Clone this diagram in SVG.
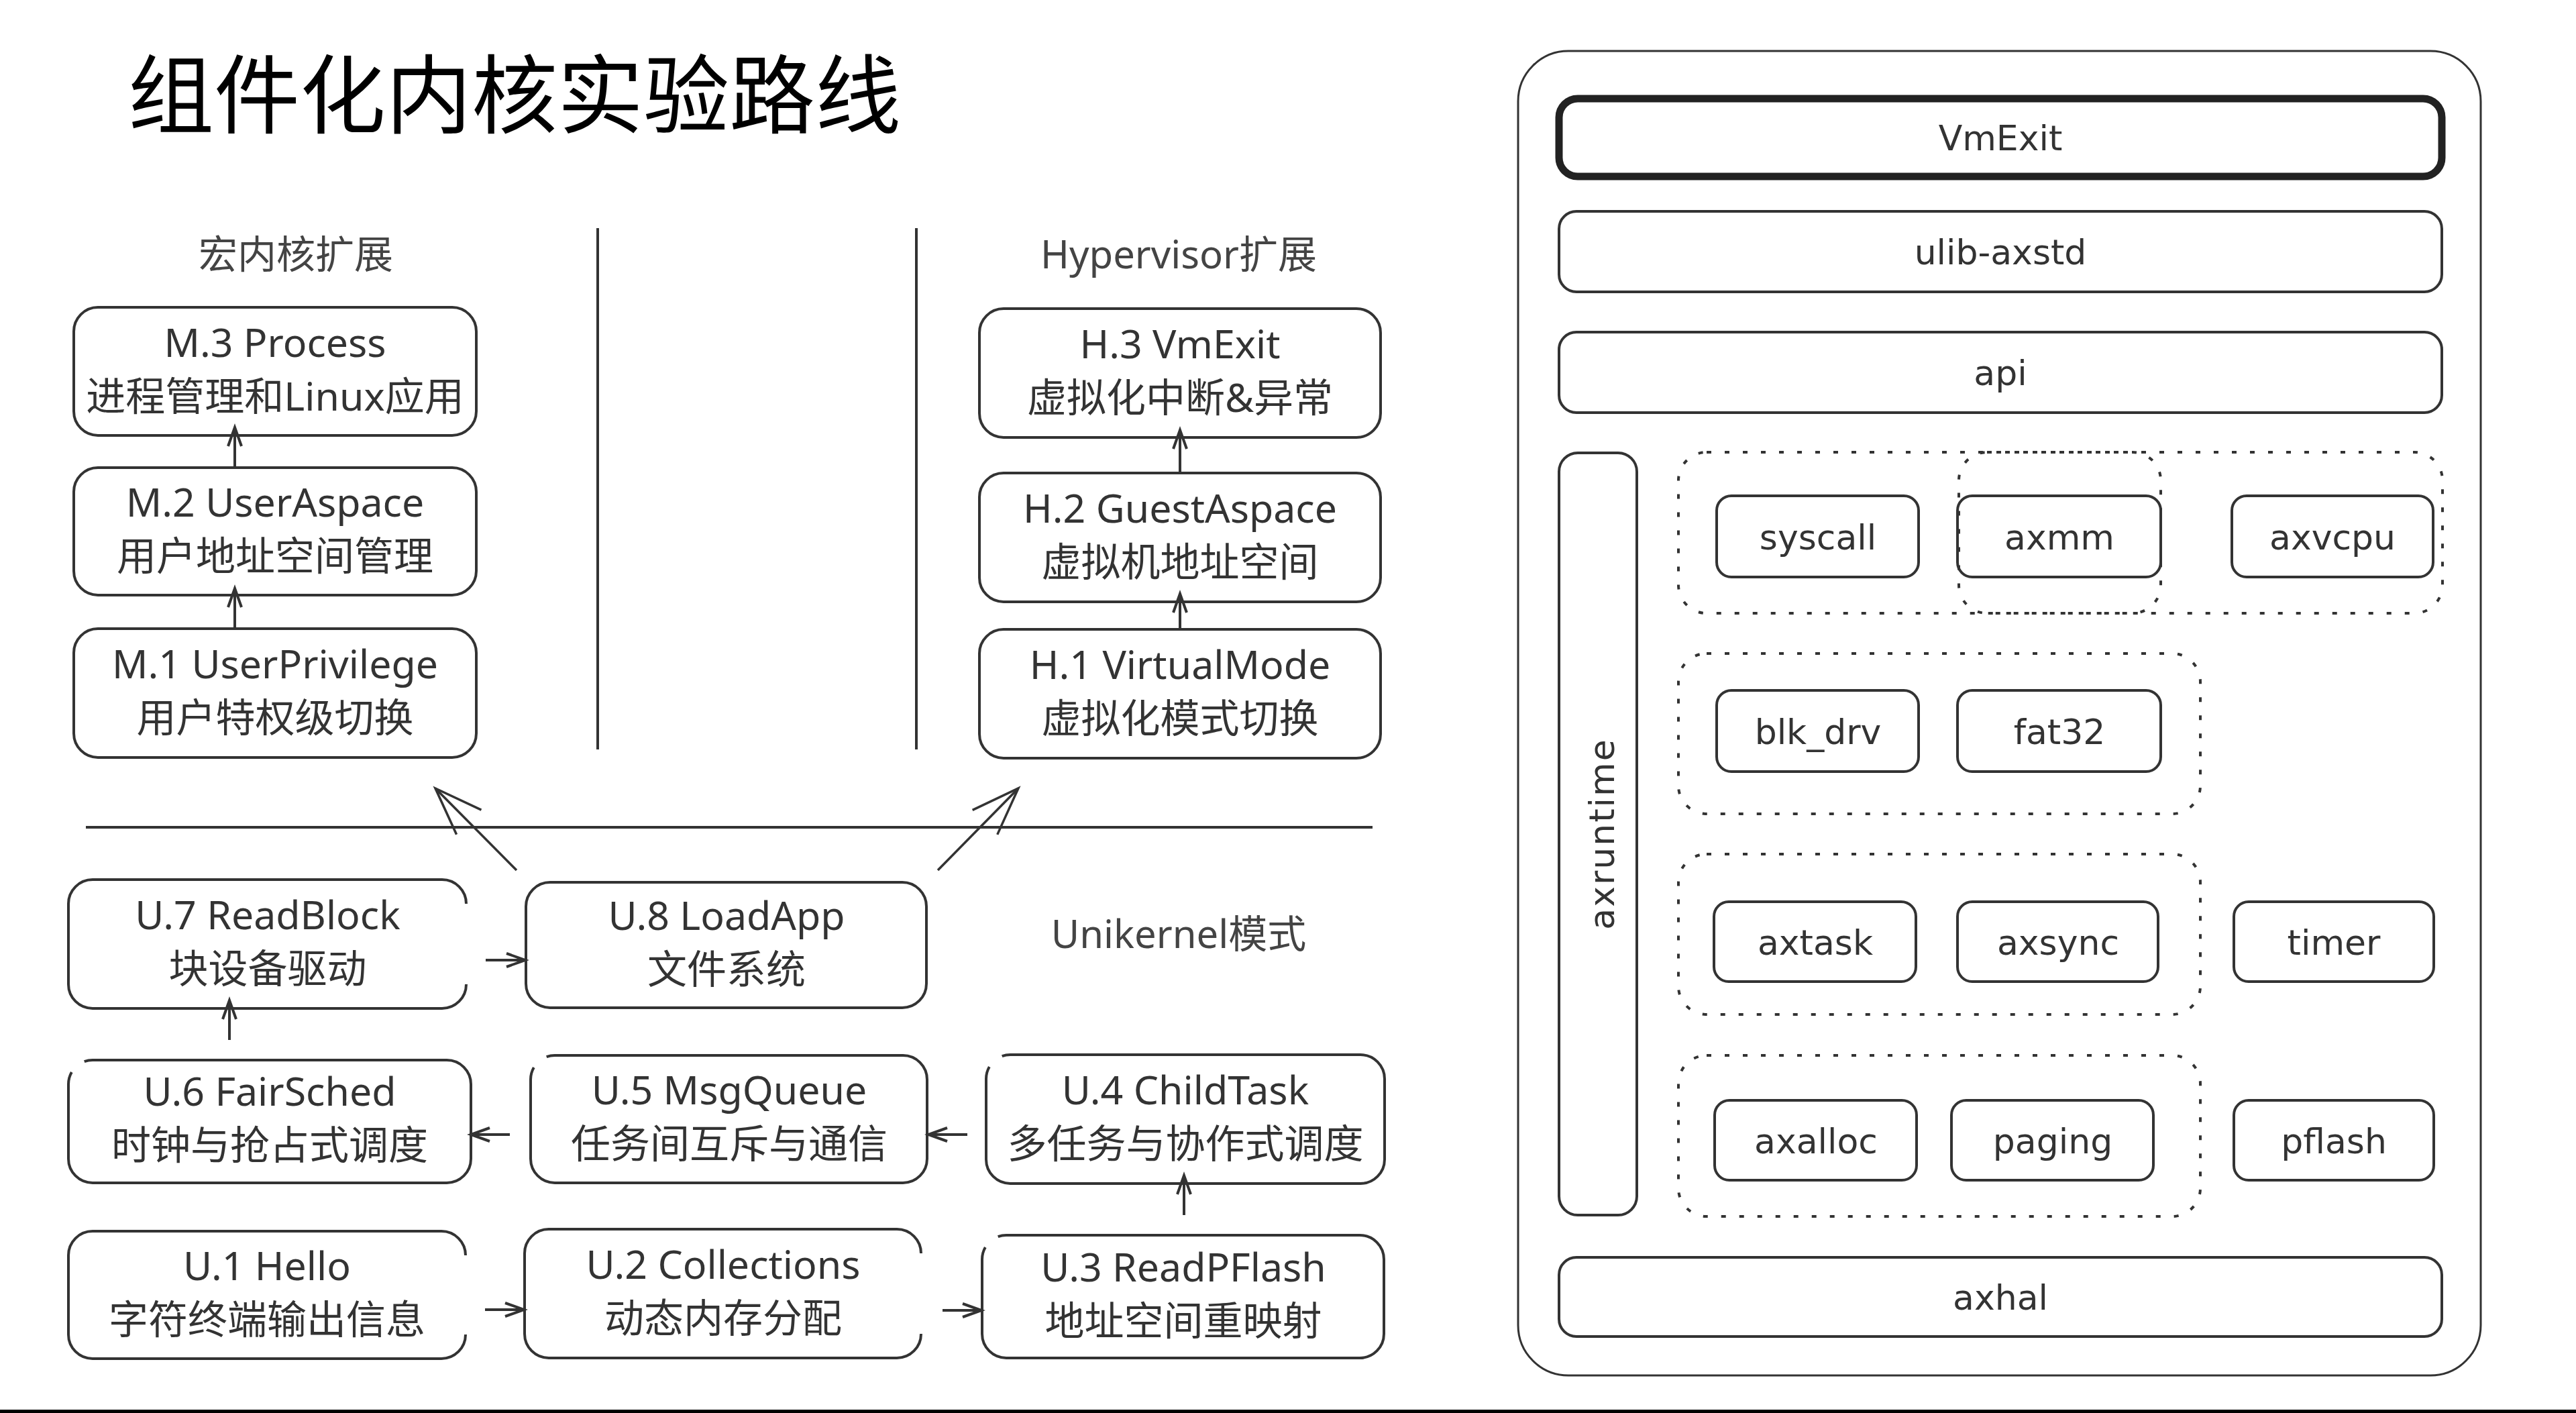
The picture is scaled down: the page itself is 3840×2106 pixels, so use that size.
<svg xmlns="http://www.w3.org/2000/svg" width="3840" height="2106" viewBox="0 0 3840 2106">
<style>
.box{fill:none;stroke:#333;stroke-width:4}
.t{font-family:"Noto Sans","Noto Sans CJK SC",sans-serif;font-size:59px;fill:#333;text-anchor:middle}
.lbl{font-family:"Noto Sans","Noto Sans CJK SC",sans-serif;font-size:58px;fill:#444;text-anchor:middle}
.rt{font-family:"DejaVu Sans",sans-serif;font-size:52px;fill:#333;text-anchor:middle}
.grp{fill:none;stroke:#333;stroke-width:4;stroke-dasharray:7 20}
.conn{stroke:#333;stroke-width:4;fill:none}
.big{stroke:#333;stroke-width:3.5;fill:none}
.sep{stroke:#333;stroke-width:4}
</style>
<defs>
<marker id="ah" markerUnits="userSpaceOnUse" markerWidth="40" markerHeight="30" refX="30" refY="12" orient="auto">
<path d="M2,2 L30,12 L2,22" fill="none" stroke="#333" stroke-width="4"/>
</marker>
<marker id="bh" markerUnits="userSpaceOnUse" markerWidth="80" markerHeight="60" refX="73" refY="28" orient="auto">
<path d="M2,2 L73,28 L2,54" fill="none" stroke="#333" stroke-width="3.5"/>
</marker>
</defs>
<rect width="3840" height="2106" fill="#fff"/>
<rect x="0" y="2101" width="3840" height="5" fill="#000"/>

<text id="title" x="191" y="189" font-family="'Noto Sans CJK SC',sans-serif" font-size="128" fill="#000">组件化内核实验路线</text>

<text id="lbl-macro" class="lbl" x="441" y="400">宏内核扩展</text>
<text id="lbl-hyper" class="lbl" x="1757" y="400">Hypervisor扩展</text>
<text id="lbl-uni" class="lbl" x="1757" y="1413">Unikernel模式</text>

<g id="separators">
<line class="sep" x1="891" y1="340" x2="891" y2="1117"/>
<line class="sep" x1="1366" y1="340" x2="1366" y2="1117"/>
<line class="sep" x1="128" y1="1233" x2="2046" y2="1233"/>
</g>

<g id="M3"><rect class="box" x="110" y="458" width="600" height="191" rx="36"/><text class="t" x="410" y="532">M.3 Process</text><text class="t" x="410" y="612">进程管理和Linux应用</text></g>
<g id="M2"><rect class="box" x="110" y="697" width="600" height="190" rx="36"/><text class="t" x="410" y="770">M.2 UserAspace</text><text class="t" x="410" y="850">用户地址空间管理</text></g>
<g id="M1"><rect class="box" x="110" y="937" width="600" height="192" rx="36"/><text class="t" x="410" y="1011">M.1 UserPrivilege</text><text class="t" x="410" y="1091">用户特权级切换</text></g>

<g id="H3"><rect class="box" x="1460" y="460" width="598" height="192" rx="36"/><text class="t" x="1759" y="534">H.3 VmExit</text><text class="t" x="1759" y="614">虚拟化中断&amp;异常</text></g>
<g id="H2"><rect class="box" x="1460" y="705" width="598" height="192" rx="36"/><text class="t" x="1759" y="779">H.2 GuestAspace</text><text class="t" x="1759" y="859">虚拟机地址空间</text></g>
<g id="H1"><rect class="box" x="1460" y="938" width="598" height="192" rx="36"/><text class="t" x="1759" y="1012">H.1 VirtualMode</text><text class="t" x="1759" y="1092">虚拟化模式切换</text></g>

<g id="U7"><path class="box" d="M695,1467 A36 36 0 0 1 659,1503 H138 A36 36 0 0 1 102,1467 V1347 A36 36 0 0 1 138,1311 H659 A36 36 0 0 1 695,1347"/><text class="t" x="399" y="1385">U.7 ReadBlock</text><text class="t" x="399" y="1465">块设备驱动</text></g>
<g id="U8"><rect class="box" x="784" y="1315" width="597" height="187" rx="36"/><text class="t" x="1083" y="1386">U.8 LoadApp</text><text class="t" x="1083" y="1466">文件系统</text></g>
<g id="U6"><path class="box" d="M125.7,1582.2 A36 36 0 0 1 138,1580 H666 A36 36 0 0 1 702,1616 V1727 A36 36 0 0 1 666,1763 H138 A36 36 0 0 1 102,1727 V1616 A36 36 0 0 1 106.8,1598"/><text class="t" x="402" y="1648">U.6 FairSched</text><text class="t" x="402" y="1728">时钟与抢占式调度</text></g>
<g id="U5"><path class="box" d="M814.7,1575.2 A36 36 0 0 1 827,1573 H1346 A36 36 0 0 1 1382,1609 V1727 A36 36 0 0 1 1346,1763 H827 A36 36 0 0 1 791,1727 V1609 A36 36 0 0 1 795.8,1591"/><text class="t" x="1087" y="1646">U.5 MsgQueue</text><text class="t" x="1087" y="1726">任务间互斥与通信</text></g>
<g id="U4"><path class="box" d="M1493.7,1574.2 A36 36 0 0 1 1506,1572 H2028 A36 36 0 0 1 2064,1608 V1728 A36 36 0 0 1 2028,1764 H1506 A36 36 0 0 1 1470,1728 V1608 A36 36 0 0 1 1474.8,1590"/><text class="t" x="1767" y="1646">U.4 ChildTask</text><text class="t" x="1767" y="1726">多任务与协作式调度</text></g>
<g id="U1"><path class="box" d="M694,1989 A36 36 0 0 1 658,2025 H138 A36 36 0 0 1 102,1989 V1871 A36 36 0 0 1 138,1835 H658 A36 36 0 0 1 694,1871"/><text class="t" x="398" y="1908">U.1 Hello</text><text class="t" x="398" y="1988">字符终端输出信息</text></g>
<g id="U2"><path class="box" d="M1373,1988 A36 36 0 0 1 1337,2024 H818 A36 36 0 0 1 782,1988 V1868 A36 36 0 0 1 818,1832 H1337 A36 36 0 0 1 1373,1868"/><text class="t" x="1078" y="1906">U.2 Collections</text><text class="t" x="1078" y="1986">动态内存分配</text></g>
<g id="U3"><path class="box" d="M1487.7,1843.2 A36 36 0 0 1 1500,1841 H2027 A36 36 0 0 1 2063,1877 V1988 A36 36 0 0 1 2027,2024 H1500 A36 36 0 0 1 1464,1988 V1877 A36 36 0 0 1 1468.8,1859"/><text class="t" x="1764" y="1910">U.3 ReadPFlash</text><text class="t" x="1764" y="1990">地址空间重映射</text></g>

<g id="connectors">
<line class="conn" x1="350" y1="936" x2="350" y2="877" marker-end="url(#ah)"/>
<line class="conn" x1="350" y1="696" x2="350" y2="637" marker-end="url(#ah)"/>
<line class="conn" x1="1759" y1="938" x2="1759" y2="885" marker-end="url(#ah)"/>
<line class="conn" x1="1759" y1="703" x2="1759" y2="641" marker-end="url(#ah)"/>
<line class="conn" x1="724" y1="1431" x2="783" y2="1431" marker-end="url(#ah)"/>
<line class="conn" x1="342" y1="1550" x2="342" y2="1491" marker-end="url(#ah)"/>
<line class="conn" x1="760" y1="1691" x2="702" y2="1691" marker-end="url(#ah)"/>
<line class="conn" x1="723" y1="1952" x2="781" y2="1952" marker-end="url(#ah)"/>
<line class="conn" x1="1405" y1="1953" x2="1463" y2="1953" marker-end="url(#ah)"/>
<line class="conn" x1="1765" y1="1811" x2="1765" y2="1752" marker-end="url(#ah)"/>
<line class="conn" x1="1442" y1="1691" x2="1384" y2="1691" marker-end="url(#ah)"/>
<line class="big" x1="770" y1="1297" x2="649" y2="1175" marker-end="url(#bh)"/>
<line class="big" x1="1398" y1="1297" x2="1518" y2="1175" marker-end="url(#bh)"/>
</g>

<g id="arceos">
<rect x="2263" y="76" width="1435" height="1974" rx="75" fill="none" stroke="#333" stroke-width="3"/>
</g>
<g id="VmExit"><rect x="2324" y="147" width="1316" height="116" rx="28" fill="none" stroke="#222" stroke-width="11"/><text class="rt" x="2982" y="224">VmExit</text></g>
<g id="ulib-axstd"><rect class="box" x="2324" y="315" width="1316" height="120" rx="26"/><text class="rt" x="2982" y="394">ulib-axstd</text></g>
<g id="api"><rect class="box" x="2324" y="495" width="1316" height="120" rx="26"/><text class="rt" x="2982" y="574">api</text></g>
<g id="axruntime"><rect class="box" x="2324" y="675" width="116" height="1136" rx="28"/><text class="rt" transform="translate(2406,1243) rotate(-90)" x="0" y="0" letter-spacing="2">axruntime</text></g>
<g id="axhal"><rect class="box" x="2324" y="1874" width="1316" height="118" rx="26"/><text class="rt" x="2982" y="1952">axhal</text></g>

<g id="group1"><rect class="grp" x="2502" y="674" width="1139" height="240" rx="42"/></g>
<g id="group1b"><rect class="grp" x="2920" y="674" width="301" height="240" rx="42"/></g>
<g id="group2"><rect class="grp" x="2502" y="974" width="778" height="239" rx="42"/></g>
<g id="group3"><rect class="grp" x="2502" y="1273" width="778" height="239" rx="42"/></g>
<g id="group4"><rect class="grp" x="2502" y="1573" width="778" height="240" rx="42"/></g>

<g id="syscall"><rect class="box" x="2559" y="739" width="301" height="121" rx="22"/><text class="rt" x="2710" y="819">syscall</text></g>
<g id="axmm"><rect class="box" x="2918" y="739" width="303" height="121" rx="22"/><text class="rt" x="3070" y="819">axmm</text></g>
<g id="axvcpu"><rect class="box" x="3327" y="739" width="300" height="121" rx="22"/><text class="rt" x="3477" y="819">axvcpu</text></g>
<g id="blk_drv"><rect class="box" x="2559" y="1029" width="301" height="121" rx="22"/><text class="rt" x="2710" y="1109">blk_drv</text></g>
<g id="fat32"><rect class="box" x="2918" y="1029" width="303" height="121" rx="22"/><text class="rt" x="3070" y="1109">fat32</text></g>
<g id="axtask"><rect class="box" x="2555" y="1344" width="301" height="119" rx="22"/><text class="rt" x="2706" y="1423">axtask</text></g>
<g id="axsync"><rect class="box" x="2918" y="1344" width="299" height="119" rx="22"/><text class="rt" x="3068" y="1423">axsync</text></g>
<g id="timer"><rect class="box" x="3330" y="1344" width="298" height="119" rx="22"/><text class="rt" x="3479" y="1423">timer</text></g>
<g id="axalloc"><rect class="box" x="2556" y="1640" width="301" height="119" rx="22"/><text class="rt" x="2707" y="1719">axalloc</text></g>
<g id="paging"><rect class="box" x="2909" y="1640" width="301" height="119" rx="22"/><text class="rt" x="3060" y="1719">paging</text></g>
<g id="pflash"><rect class="box" x="3330" y="1640" width="298" height="119" rx="22"/><text class="rt" x="3479" y="1719">pflash</text></g>
</svg>
